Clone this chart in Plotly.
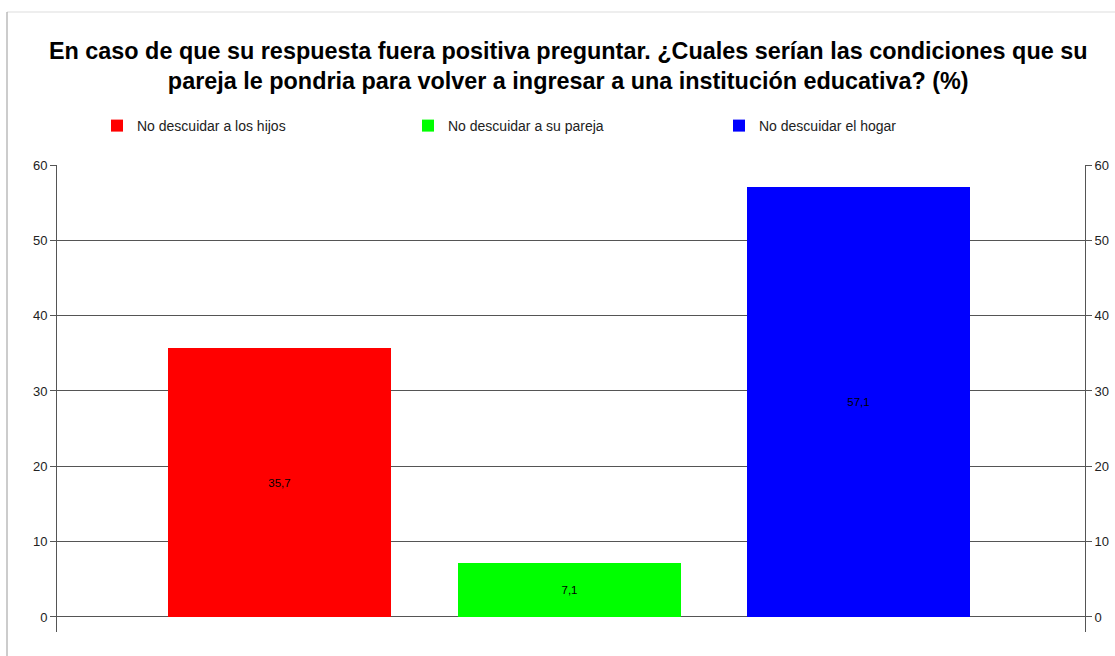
import plotly.graph_objects as go

categories = ["No descuidar a los hijos", "No descuidar a su pareja", "No descuidar el hogar"]
values = [35.7, 7.1, 57.1]
labels = ["35,7", "7,1", "57,1"]
colors = ["#ff0000", "#00ff00", "#0000ff"]
tick_vals = [0, 10, 20, 30, 40, 50, 60]

title = ("<b>En caso de que su respuesta fuera positiva preguntar. ¿Cuales serían las condiciones que su<br>"
         "pareja le pondria para volver a ingresar a una institución educativa? (%)</b>")

fig = go.Figure()
for i, (c, v, t, col) in enumerate(zip(categories, values, labels, colors)):
    fig.add_trace(go.Bar(
        x=[i], y=[v], name=c, text=[t], textposition="inside",
        insidetextanchor="middle", textangle=0,
        textfont=dict(color="black", size=11.5, family="Liberation Sans, Arial"),
        marker=dict(color=col, line=dict(width=0)), width=0.77,
        hoverinfo="y",
    ))
# invisible trace for the secondary axis
fig.add_trace(go.Scatter(x=[0], y=[0], yaxis="y2", mode="markers",
                         marker=dict(opacity=0), showlegend=False, hoverinfo="skip"))

axis_common = dict(range=[-2, 60], tickvals=tick_vals, ticks="outside", ticklen=6,
                   tickcolor="#555555", showline=True, linecolor="#555555", linewidth=1,
                   tickfont=dict(size=13, color="#222222", family="Liberation Sans, Arial"),
                   zeroline=False, automargin=False)

fig.update_layout(
    width=1115, height=656,
    margin=dict(l=57, r=30, t=165, b=24, autoexpand=False),
    paper_bgcolor="white", plot_bgcolor="white",
    title=dict(text=title, x=0.5096, xanchor="center", y=1 - 59 / 656, yanchor="top",
               font=dict(size=23.4, color="black", family="Liberation Sans, Arial"),
               automargin=False),
    font=dict(family="Liberation Sans, Arial"),
    showlegend=True,
    legend=dict(orientation="h", x=(97 - 57) / 1028, xanchor="left",
                y=(632 - 126) / 467, yanchor="middle",
                entrywidth=266, entrywidthmode="pixels",
                font=dict(size=14, color="#222222"), traceorder="normal"),
    bargap=0,
    xaxis=dict(range=[-0.7686, 2.782], showticklabels=False, showgrid=False,
               zeroline=False, showline=False, ticks="", automargin=False),
    yaxis=dict(**axis_common, showgrid=True, gridcolor="#555555", gridwidth=1),
    yaxis2=dict(**axis_common, overlaying="y", side="right", showgrid=False),
    shapes=[
        dict(type="line", xref="paper", yref="paper",
             x0=(7 - 57) / 1028, x1=(1115 - 57) / 1028,
             y0=(632 - 12) / 467, y1=(632 - 12) / 467,
             line=dict(color="#dddddd", width=1)),
        dict(type="line", xref="paper", yref="paper",
             x0=(7 - 57) / 1028, x1=(7 - 57) / 1028,
             y0=(632 - 12) / 467, y1=(632 - 660) / 467,
             line=dict(color="#999999", width=1)),
    ],
)

fig.write_html("out.html", config={"displayModeBar": False},
               post_script="document.body.style.margin='0';document.body.style.padding='0';"
                           "document.body.style.overflow='hidden';")
